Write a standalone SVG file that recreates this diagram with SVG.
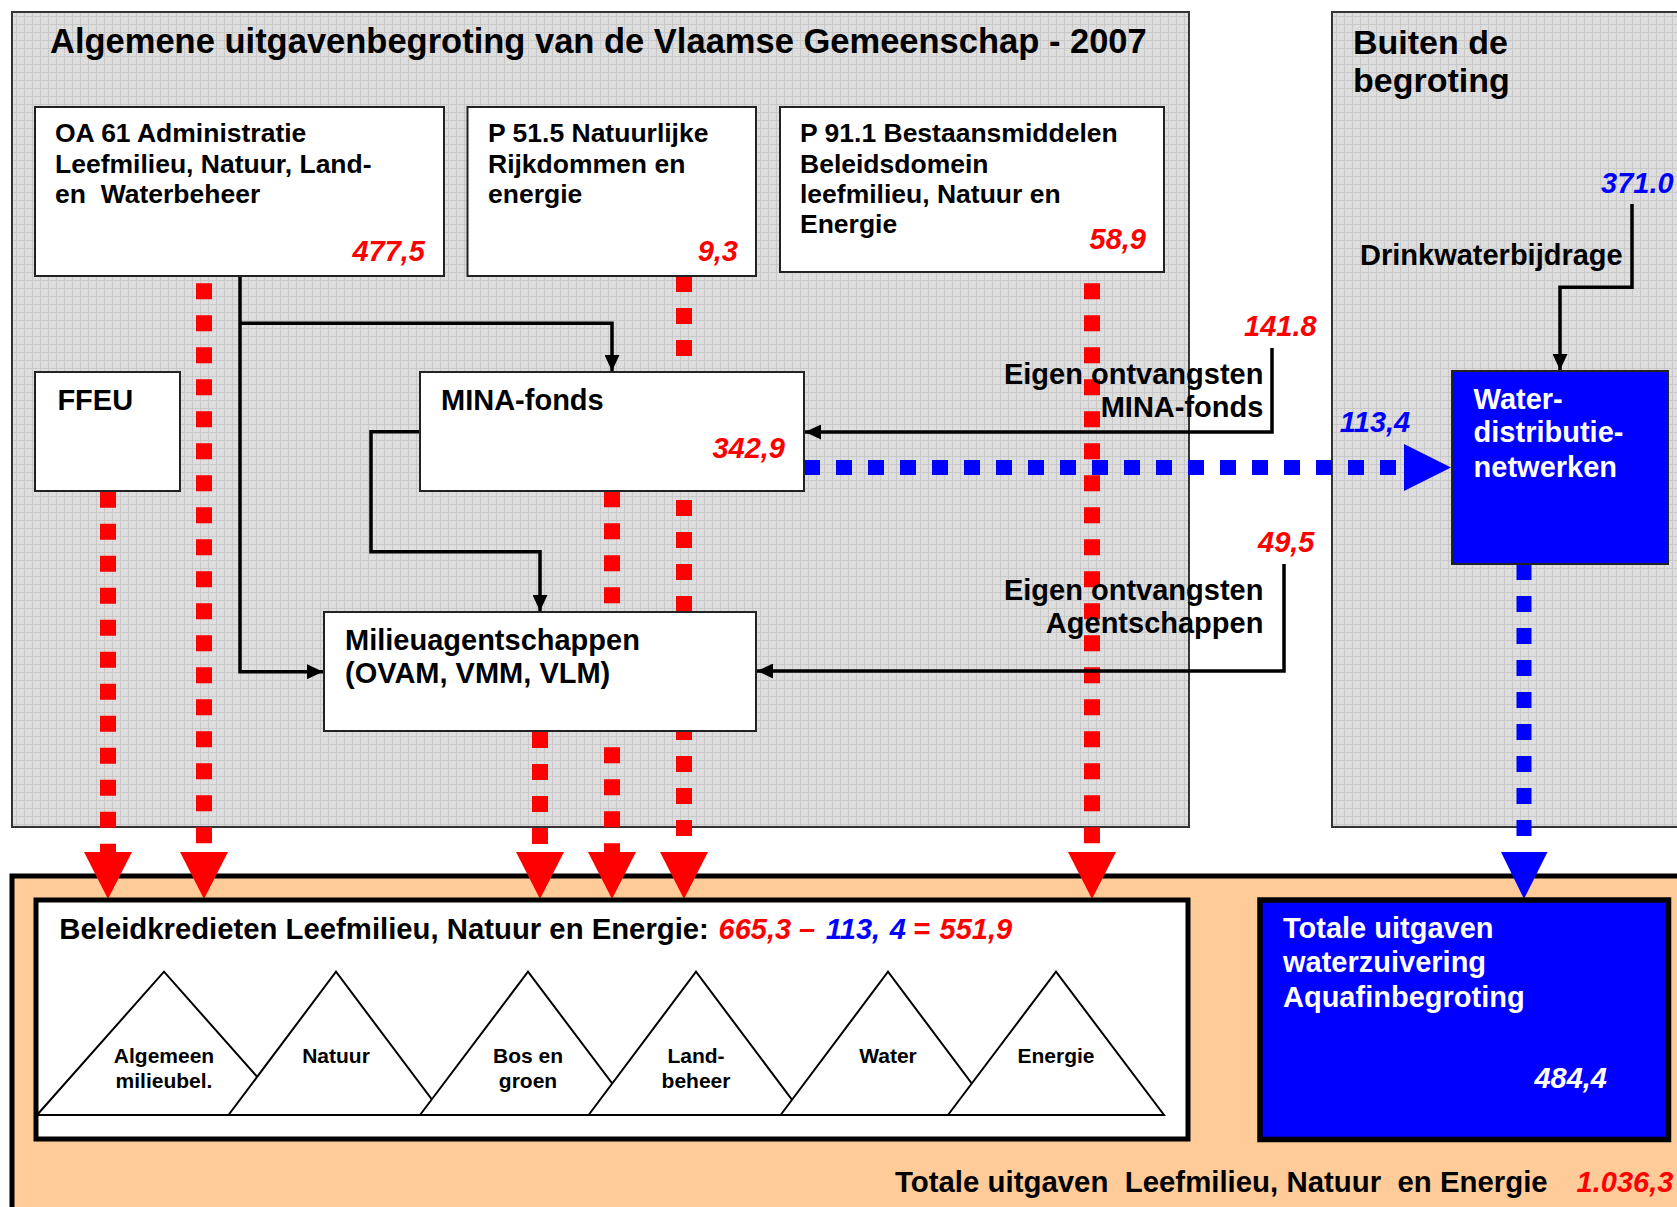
<svg xmlns="http://www.w3.org/2000/svg" width="1677" height="1207" viewBox="0 0 1677 1207">
<style>
.t{font-family:"Liberation Sans",Arial,sans-serif;font-weight:bold;fill:#000}
.w{fill:#fff}
.n{font-style:italic}
.red{fill:#ff0000}
.blu{fill:#0000ff}
.big{font-size:34.5px}
.bx{font-size:26.5px}
.m{font-size:29px}
.m2{font-size:29.3px}
.m3{font-size:29.4px}
.tri{font-size:21px;text-anchor:middle}
.end{text-anchor:end}
.pre{white-space:pre}
.node{fill:#fff;stroke:#222;stroke-width:2}
.conn{fill:none;stroke:#000;stroke-width:3.5}
.rd{stroke:#ff0000;stroke-width:16;stroke-dasharray:16 16;fill:none}
.bd{stroke:#0000ff;stroke-width:15;stroke-dasharray:16 16;fill:none}
.trg{fill:#fff;stroke:#000;stroke-width:2}
</style>
<defs>
<pattern id="grid" width="8" height="8" patternUnits="userSpaceOnUse">
<rect width="8" height="8" fill="#dedede"/>
<path d="M0 0.5H8M0.5 0V8" stroke="#c8c8c8" stroke-width="1"/>
</pattern>
<marker id="ah" markerUnits="userSpaceOnUse" markerWidth="16" markerHeight="15" refX="16" refY="7.5" orient="auto">
<path d="M0,0 L16,7.5 L0,15 z" fill="#000"/>
</marker>
</defs>
<rect width="1677" height="1207" fill="#fff"/>

<g id="zone-begroting">
<rect x="12" y="12" width="1177" height="815" fill="url(#grid)" stroke="#333" stroke-width="2"/>
<text class="t big" x="50" y="53.3">Algemene uitgavenbegroting van de Vlaamse Gemeenschap - 2007</text>
</g>
<g id="zone-buiten">
<rect x="1332" y="12" width="360" height="815" fill="url(#grid)" stroke="#333" stroke-width="2"/>
<text class="t" font-size="34" x="1353" y="54.3">Buiten de</text>
<text class="t" font-size="34" x="1353" y="91.7">begroting</text>
</g>

<g id="zone-totaal">
<rect x="12" y="876" width="1700" height="400" fill="#ffcc99" stroke="#000" stroke-width="5"/>
</g>

<g id="connectors">
<line class="rd" x1="108" y1="491.7" x2="108" y2="852"/>
<line class="rd" x1="204" y1="283.3" x2="204" y2="852"/>
<line class="rd" x1="540" y1="732" x2="540" y2="852"/>
<line class="rd" x1="612" y1="491.3" x2="612" y2="852"/>
<line class="rd" x1="684" y1="276" x2="684" y2="852"/>
<line class="rd" x1="1092" y1="283.3" x2="1092" y2="852"/>
<line class="bd" x1="804" y1="467.5" x2="1404" y2="467.5"/>
<line class="bd" x1="1524" y1="564" x2="1524" y2="852"/>
<path class="conn" d="M240,276 V671.7 H323" marker-end="url(#ah)"/>
<path class="conn" d="M240,323.3 H612 V371" marker-end="url(#ah)"/>
<path class="conn" d="M420,431.7 H371 V551.7 H540 V611" marker-end="url(#ah)"/>
<path class="conn" d="M1272,348 V432 H805" marker-end="url(#ah)"/>
<path class="conn" d="M1284,564 V671 H757" marker-end="url(#ah)"/>
<path class="conn" d="M1632,204 V287.3 H1560 V370" marker-end="url(#ah)"/>
<g fill="#ff0000">
<polygon points="84,852 132,852 108,899"/>
<polygon points="180,852 228,852 204,899"/>
<polygon points="516,852 564,852 540,899"/>
<polygon points="588,852 636,852 612,899"/>
<polygon points="660,852 708,852 684,899"/>
<polygon points="1068,852 1116,852 1092,899"/>
</g>
<g fill="#0000ff">
<polygon points="1404,444 1404,491 1451,467.5"/>
<polygon points="1501,852 1547.5,852 1524,899"/>
</g>
</g>

<g id="node-oa61">
<rect class="node" x="35" y="107" width="409" height="169"/>
<text class="t bx pre" x="55" y="141.7">OA 61 Administratie</text>
<text class="t bx pre" x="55" y="172.7">Leefmilieu, Natuur, Land-</text>
<text class="t bx pre" x="55" y="202.7">en  Waterbeheer</text>
<text class="t m n red end" x="425" y="261">477,5</text>
</g>
<g id="node-p515">
<rect class="node" x="467.5" y="107" width="288.5" height="169"/>
<text class="t bx" x="488" y="141.7">P 51.5 Natuurlijke</text>
<text class="t bx" x="488" y="172.7">Rijkdommen en</text>
<text class="t bx" x="488" y="202.7">energie</text>
<text class="t m n red end" x="738" y="261">9,3</text>
</g>
<g id="node-p911">
<rect class="node" x="780" y="107" width="384" height="165"/>
<text class="t bx" x="800" y="141.7">P 91.1 Bestaansmiddelen</text>
<text class="t bx" x="800" y="172.7">Beleidsdomein</text>
<text class="t bx" x="800" y="202.7">leefmilieu, Natuur en</text>
<text class="t bx" x="800" y="233.2">Energie</text>
<text class="t m n red end" x="1146" y="249.3">58,9</text>
</g>
<g id="node-ffeu">
<rect class="node" x="35" y="372" width="145" height="119"/>
<text class="t m" x="57.4" y="410">FFEU</text>
</g>
<g id="node-mina">
<rect class="node" x="420" y="372" width="384" height="119"/>
<text class="t m" x="441" y="410">MINA-fonds</text>
<text class="t m n red end" x="785" y="458.3">342,9</text>
</g>
<g id="node-milieu">
<rect class="node" x="324" y="612" width="432" height="119"/>
<text class="t m" x="345" y="650">Milieuagentschappen</text>
<text class="t m" x="345" y="683.3">(OVAM, VMM, VLM)</text>
</g>
<g id="node-water">
<rect x="1452" y="371" width="216" height="193" fill="#0000ff" stroke="#222" stroke-width="2"/>
<text class="t m w" x="1473.6" y="409.3">Water-</text>
<text class="t m w" x="1473.6" y="442.3">distributie-</text>
<text class="t m w" x="1473.6" y="476.7">netwerken</text>
</g>

<g id="labels">
<text class="t m n red" x="1244" y="336">141.8</text>
<text class="t m end" x="1263.4" y="384.3">Eigen ontvangsten</text>
<text class="t m end" x="1263.4" y="417.3">MINA-fonds</text>
<text class="t m n blu" x="1339.8" y="432.3">113,4</text>
<text class="t m n red" x="1258" y="552.3">49,5</text>
<text class="t m end" x="1263.4" y="600">Eigen ontvangsten</text>
<text class="t m end" x="1263.4" y="632.7">Agentschappen</text>
<text class="t m n blu" x="1601" y="192.7">371.0</text>
<text class="t m" x="1360" y="265">Drinkwaterbijdrage</text>
</g>

<g id="node-beleidkredieten">
<rect x="36" y="900" width="1152" height="239" fill="#fff" stroke="#000" stroke-width="5"/>
<text class="t m2" x="59.3" y="938.8">Beleidkredieten Leefmilieu, Natuur en Energie:</text>
<text class="t m n" y="938.8"><tspan class="red" x="718.6">665,3</tspan><tspan class="red" x="799">–</tspan><tspan class="blu" x="825.8">113,</tspan><tspan class="blu" x="889.7">4</tspan><tspan class="red" x="913">=</tspan><tspan class="red" x="939.5">551,9</tspan></text>
<polygon class="trg" points="37,1115 164,971.7 291,1115"/>
<polygon class="trg" points="228.5,1115 336,971.7 443.5,1115"/>
<polygon class="trg" points="420,1115 528,971.7 636,1115"/>
<polygon class="trg" points="588.6,1115 696,971.7 803.4,1115"/>
<polygon class="trg" points="780.6,1115 888,971.7 995.4,1115"/>
<polygon class="trg" points="948,1115 1056,971.7 1164,1115"/>
<text class="t tri" x="164" y="1063.3">Algemeen</text>
<text class="t tri" x="164" y="1087.7">milieubel.</text>
<text class="t tri" x="336" y="1063.3">Natuur</text>
<text class="t tri" x="528" y="1063.3">Bos en</text>
<text class="t tri" x="528" y="1087.7">groen</text>
<text class="t tri" x="696" y="1063.3">Land-</text>
<text class="t tri" x="696" y="1087.7">beheer</text>
<text class="t tri" x="888" y="1063.3">Water</text>
<text class="t tri" x="1056" y="1063.3">Energie</text>
</g>

<g id="node-aquafin">
<rect x="1260" y="900" width="408.5" height="239.5" fill="#0000ff" stroke="#000" stroke-width="5.5"/>
<text class="t m w" x="1283" y="938.3">Totale uitgaven</text>
<text class="t m w" x="1283" y="972.3">waterzuivering</text>
<text class="t m w" x="1283" y="1006.7">Aquafinbegroting</text>
<text class="t m w n end" x="1607" y="1088.3">484,4</text>
</g>

<g id="label-totaal">
<text class="t m3 pre" x="895" y="1191.7">Totale uitgaven  Leefmilieu, Natuur  en Energie</text>
<text class="t m n red" x="1576.6" y="1191.7">1.036,3</text>
</g>
</svg>
